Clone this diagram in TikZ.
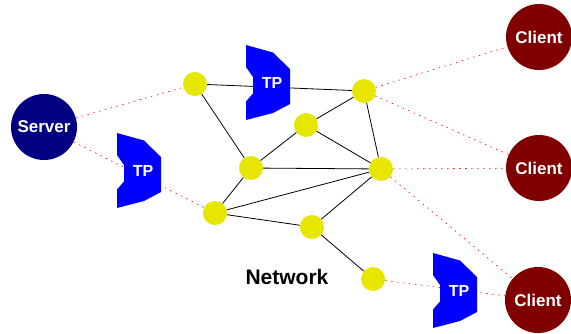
\documentclass[tikz,border=0pt]{standalone}
\usepackage{fontspec}
\setsansfont{Liberation Sans}
\usepackage{tikz}

\definecolor{servcol}{RGB}{0,0,128}
\definecolor{clientcol}{RGB}{128,0,0}
\definecolor{nodecol}{RGB}{230,230,0}

\tikzset{
  host/.style={circle,minimum size=66pt,inner sep=0pt,text=white,font=\sffamily\bfseries\fontsize{17}{17}\selectfont},
  router/.style={circle,fill=nodecol,minimum size=24pt,inner sep=0pt},
  link/.style={black,line width=0.8pt},
  tunnel/.style={red,line width=0.6pt,dash pattern=on 1.5pt off 4.5pt},
  tp/.pic={
    \fill[blue] (0,0) -- (27,7.5) -- (44,24) -- (44,59) -- (27,68) -- (0,75)
      -- (0,56.5) -- (7,48.5) -- (7,32) -- (0,22) -- cycle;
    \node[text=white,font=\sffamily\bfseries\fontsize{16}{16}\selectfont] (-lbl) at (26,38) {TP};
  }
}

\begin{document}
\begin{tikzpicture}[x=1pt,y=-1pt]
 \useasboundingbox (0,0) rectangle (571,333);
 % end hosts
 \node[host,fill=servcol] (server) at (44,127) {Server};
 \node[host,fill=clientcol] (client1) at (539,37) {Client};
 \node[host,fill=clientcol] (client2) at (539,168) {Client};
 \node[host,fill=clientcol] (client3) at (538,300) {Client};
 % network routers
 \node[router] (r1) at (195,84) {};
 \node[router] (r2) at (364,91) {};
 \node[router] (r3) at (306,125) {};
 \node[router] (r4) at (251,168) {};
 \node[router] (r5) at (381,169) {};
 \node[router] (r6) at (215,213) {};
 \node[router] (r7) at (312,227) {};
 \node[router] (r8) at (373,279) {};
 \node[font=\sffamily\bfseries\fontsize{21}{21}\selectfont] (net) at (287,277) {Network};
 % links
 \draw[link] (r1) -- (r2) (r1) -- (r4) (r2) -- (r3) (r2) -- (r5);
 \draw[link] (r3) -- (r4) (r3) -- (r5) (r4) -- (r5) (r4) -- (r6);
 \draw[link] (r6) -- (r5) (r6) -- (r7) (r7) -- (r5) (r7) -- (r8);
 \draw[tunnel] (server) -- (r1) (server) -- (r6);
 \draw[tunnel] (r2) -- (client1) (r2) -- (client2);
 \draw[tunnel] (r5) -- (client2) (r5) -- (client3) (r8) -- (client3);
 % transport proxies
 \pic (tp1) at (246,45) {tp};
 \pic (tp2) at (117,133) {tp};
 \pic (tp3) at (433,253) {tp};
\end{tikzpicture}
\end{document}
